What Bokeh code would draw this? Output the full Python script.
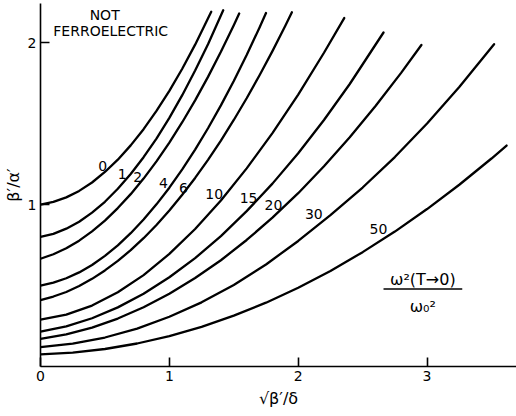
from bokeh.plotting import figure
from bokeh.models import Range1d, FixedTicker, Label
from bokeh.core.properties import value
from bokeh.embed import file_html
from bokeh.resources import INLINE

# Curve family: parameter omega^2(T->0)/omega_0^2
ratio_labels = ["0", "1", "2", "4", "6", "10", "15", "20", "30", "50"]

x_r0 = [0, 0.1, 0.2, 0.3, 0.4, 0.5, 0.6, 0.7, 0.8, 0.9, 1.0, 1.1, 1.2, 1.325]
y_r0 = [1.000, 1.016, 1.044, 1.084, 1.136, 1.201, 1.277, 1.365, 1.465, 1.578,
        1.702, 1.838, 1.987, 2.190]

x_r1 = [0, 0.1, 0.2, 0.3, 0.4, 0.5, 0.6, 0.7, 0.8, 0.9, 1.0, 1.1, 1.2, 1.3, 1.418]
y_r1 = [0.800, 0.819, 0.851, 0.894, 0.950, 1.017, 1.097, 1.188, 1.292, 1.407,
        1.535, 1.675, 1.827, 1.990, 2.199]

x_r2 = [0, 0.1, 0.2, 0.3, 0.4, 0.5, 0.6, 0.7, 0.8, 0.9, 1.0, 1.1, 1.2, 1.3,
        1.4, 1.5, 1.542]
y_r2 = [0.665, 0.693, 0.730, 0.777, 0.834, 0.901, 0.978, 1.064, 1.160, 1.266,
        1.382, 1.508, 1.643, 1.788, 1.943, 2.107, 2.179]

x_r4 = [0, 0.1, 0.2, 0.3, 0.4, 0.5, 0.6, 0.7, 0.8, 0.9, 1.0, 1.1, 1.2, 1.3,
        1.4, 1.5, 1.6, 1.7, 1.75]
y_r4 = [0.500, 0.518, 0.545, 0.581, 0.627, 0.683, 0.748, 0.823, 0.907, 1.001,
        1.104, 1.217, 1.339, 1.471, 1.612, 1.763, 1.923, 2.093, 2.182]

x_r6 = [0, 0.1, 0.2, 0.3, 0.4, 0.5, 0.6, 0.7, 0.8, 0.9, 1.0, 1.1, 1.2, 1.3,
        1.4, 1.5, 1.6, 1.7, 1.8, 1.9, 1.951]
y_r6 = [0.410, 0.432, 0.460, 0.497, 0.541, 0.593, 0.652, 0.718, 0.792, 0.874,
        0.963, 1.060, 1.164, 1.276, 1.395, 1.522, 1.656, 1.798, 1.947, 2.104,
        2.187]

x_r10 = [0, 0.2, 0.4, 0.6, 0.8, 1.0, 1.2, 1.4, 1.6, 1.8, 2.0, 2.2, 2.357]
y_r10 = [0.290, 0.320, 0.376, 0.458, 0.564, 0.695, 0.849, 1.025, 1.223, 1.441,
         1.679, 1.937, 2.151]

x_r15 = [0, 0.2, 0.4, 0.6, 0.8, 1.0, 1.2, 1.4, 1.6, 1.8, 2.0, 2.2, 2.4, 2.662]
y_r15 = [0.215, 0.248, 0.298, 0.365, 0.449, 0.551, 0.669, 0.805, 0.959, 1.129,
         1.317, 1.522, 1.744, 2.062]

x_r20 = [0, 0.2, 0.4, 0.6, 0.8, 1.0, 1.2, 1.4, 1.6, 1.8, 2.0, 2.2, 2.4, 2.6,
         2.8, 2.956]
y_r20 = [0.170, 0.198, 0.240, 0.296, 0.366, 0.449, 0.546, 0.656, 0.781, 0.919,
         1.070, 1.236, 1.415, 1.608, 1.814, 1.985]

x_r30 = [0, 0.25, 0.5, 0.75, 1.0, 1.25, 1.5, 1.75, 2.0, 2.25, 2.5, 2.75, 3.0,
         3.25, 3.52]
y_r30 = [0.120, 0.141, 0.179, 0.234, 0.307, 0.396, 0.503, 0.630, 0.775, 0.935,
         1.105, 1.293, 1.500, 1.726, 1.990]

x_r50 = [0, 0.25, 0.5, 0.75, 1.0, 1.25, 1.5, 1.75, 2.0, 2.25, 2.5, 2.75, 3.0,
         3.25, 3.5, 3.617]
y_r50 = [0.075, 0.086, 0.108, 0.142, 0.188, 0.245, 0.314, 0.394, 0.486, 0.590,
         0.706, 0.833, 0.972, 1.122, 1.284, 1.364]

curves_x = [x_r0, x_r1, x_r2, x_r4, x_r6, x_r10, x_r15, x_r20, x_r30, x_r50]
curves_y = [y_r0, y_r1, y_r2, y_r4, y_r6, y_r10, y_r15, y_r20, y_r30, y_r50]

# positions of the curve labels (data units)
label_x = [0.483, 0.634, 0.754, 0.954, 1.109, 1.348, 1.615, 1.808, 2.121, 2.623]
label_y = [1.235, 1.191, 1.167, 1.133, 1.102, 1.068, 1.040, 0.994, 0.943, 0.850]

x_ticks = [0, 1, 2, 3]
y_ticks = [1, 2]

region_text = ["NOT", "FERROELECTRIC"]
region_x = [0.498, 0.545]
region_y = [2.167, 2.074]

FONT = "DejaVu Sans"

p = figure(width=516, height=416, output_backend="svg", toolbar_location=None,
           x_range=Range1d(0, 3.694), y_range=Range1d(0, 2.241),
           min_border_left=38, min_border_right=0, min_border_top=3,
           min_border_bottom=50)
p.outline_line_color = None
p.xgrid.visible = False
p.ygrid.visible = False
p.background_fill_color = "white"
p.border_fill_color = "white"

for ax in (p.xaxis[0], p.yaxis[0]):
    ax.major_tick_in = 9
    ax.major_tick_out = 0
    ax.minor_tick_in = 0
    ax.minor_tick_out = 0
    ax.axis_line_width = 1.6
    ax.axis_line_color = "black"
    ax.major_tick_line_width = 1.6
    ax.major_tick_line_color = "black"
    ax.major_label_text_font = FONT
    ax.major_label_text_font_size = "14px"
    ax.major_label_text_color = "black"
    ax.axis_label_text_font = FONT
    ax.axis_label_text_font_style = "normal"
    ax.axis_label_text_font_size = "16px"
    ax.axis_label_text_color = "black"

p.xaxis.ticker = FixedTicker(ticks=x_ticks)
p.yaxis.ticker = FixedTicker(ticks=y_ticks)
p.xaxis.major_label_standoff = 4
p.yaxis.major_label_standoff = 4
p.xaxis.axis_label = "√β′/δ"
p.yaxis.axis_label = "β′/α′"
p.xaxis.axis_label_standoff = 5
p.yaxis.axis_label_standoff = 2

for xs, ys in zip(curves_x, curves_y):
    p.line(xs, ys, line_color="black", line_width=2.3,
           line_join="round", line_cap="round")

p.text(x=label_x, y=label_y, text=ratio_labels, text_font=value(FONT),
       text_font_size="14px", text_align="center", text_baseline="middle",
       text_color="black")

p.text(x=region_x, y=region_y, text=region_text, text_font=value(FONT),
       text_font_size="14px", text_align="center", text_baseline="middle",
       text_color="black")

# fraction annotation naming the curve parameter
frac_x = 2.967
num_y = 0.540
bar_y = 0.478
den_y = 0.372
bar_x0 = 2.662
bar_x1 = 3.273
p.add_layout(Label(x=frac_x, y=num_y, text="ω²(T→0)", text_font=FONT,
                   text_font_size="16px", text_align="center",
                   text_baseline="middle", text_color="black"))
p.add_layout(Label(x=frac_x, y=den_y, text="ω₀²", text_font=FONT,
                   text_font_size="16px", text_align="center",
                   text_baseline="middle", text_color="black"))
p.segment(x0=[bar_x0], y0=[bar_y], x1=[bar_x1], y1=[bar_y],
          line_color="black", line_width=1.4)

open("out.html", "w").write(file_html(p, INLINE))
